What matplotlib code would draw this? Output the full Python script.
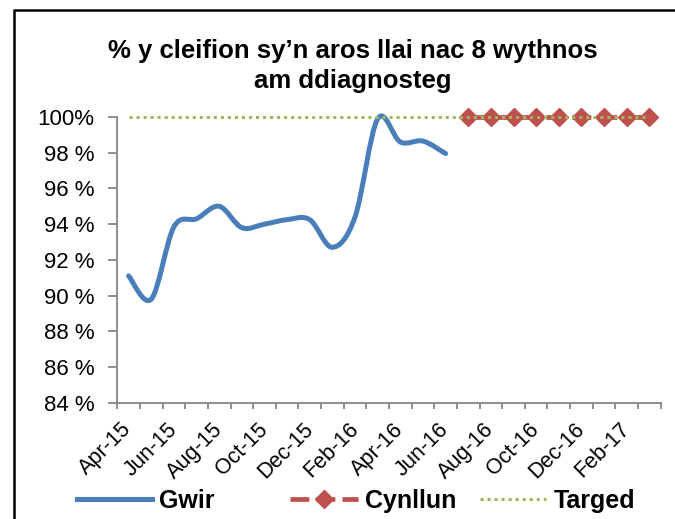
import matplotlib
matplotlib.use("Agg")
import matplotlib.pyplot as plt
from matplotlib.lines import Line2D
from matplotlib.path import Path
from matplotlib.patches import PathPatch
import numpy as np

plt.rcParams["font.family"] = ["Liberation Sans", "DejaVu Sans"]

MONTHS = [
    "Apr-15", "May-15", "Jun-15", "Jul-15", "Aug-15", "Sep-15",
    "Oct-15", "Nov-15", "Dec-15", "Jan-16", "Feb-16", "Mar-16",
    "Apr-16", "May-16", "Jun-16", "Jul-16", "Aug-16", "Sep-16",
    "Oct-16", "Nov-16", "Dec-16", "Jan-17", "Feb-17", "Mar-17",
]
# actual (Apr-15 .. Jun-16)
GWIR = [91.1, 89.8, 93.85, 94.3, 95.0, 93.8, 94.0, 94.25, 94.25, 92.7, 94.4, 99.9, 98.6, 98.65, 97.95]
# plan (Jul-16 .. Mar-17)
CYNLLUN = [100.0, 100.0, 100.0, 100.0, 100.0, 100.0, 100.0, 100.0, 100.0]
# target (all months)
TARGED = [100.0, 100.0, 100.0, 100.0, 100.0, 100.0, 100.0, 100.0, 100.0, 100.0, 100.0, 100.0,
          100.0, 100.0, 100.0, 100.0, 100.0, 100.0, 100.0, 100.0, 100.0, 100.0, 100.0, 100.0]
Y_TICKS = [84, 86, 88, 90, 92, 94, 96, 98, 100]
Y_LABELS = ["84 %", "86 %", "88 %", "90 %", "92 %", "94 %", "96 %", "98 %", "100%"]

BLUE = "#4A7EBB"
RED = "#C0504D"
GREEN = "#9BBB59"
AXIS = "#868686"


def smooth_path(xs, ys):
    # Excel style smoothed line: cubic bezier segments through every point
    pts = np.column_stack([xs, ys]).astype(float)
    n = len(pts)
    verts = [pts[0]]
    codes = [Path.MOVETO]
    for i in range(n - 1):
        p0 = pts[max(i - 1, 0)]
        p1 = pts[i]
        p2 = pts[i + 1]
        p3 = pts[min(i + 2, n - 1)]
        verts += [p1 + (p2 - p0) / 6.0, p2 - (p3 - p1) / 6.0, p2]
        codes += [Path.CURVE4] * 3
    return Path(verts, codes)


fig = plt.figure(figsize=(6.75, 5.19), dpi=100)
ax = fig.add_axes([0.1738, 0.2241, 0.8050, 0.5505])

x_all = np.arange(len(MONTHS))
x_gwir = x_all[:len(GWIR)]
x_plan = x_all[len(GWIR):len(GWIR) + len(CYNLLUN)]

ax.add_patch(PathPatch(smooth_path(x_gwir, GWIR), facecolor="none", edgecolor=BLUE,
                       linewidth=3.6, capstyle="round", joinstyle="round", zorder=3,
                       clip_on=False))
ax.plot(x_plan, CYNLLUN, color=RED, linewidth=3.4, linestyle=(0, (4, 1.5)),
        marker="D", markersize=9.5, markeredgecolor=RED, zorder=3, clip_on=False)
ax.plot(x_all, TARGED, color=GREEN, linewidth=2.2, linestyle=(0, (1, 1.3)), zorder=4,
        clip_on=False)

ax.set_xlim(-0.5, len(MONTHS) - 0.5)
ax.set_ylim(84, 100)

for side in ["top", "right"]:
    ax.spines[side].set_visible(False)
for side in ["left", "bottom"]:
    ax.spines[side].set_color(AXIS)
    ax.spines[side].set_linewidth(1.3)

ax.set_yticks(Y_TICKS)
ax.set_yticklabels(Y_LABELS)
ax.tick_params(axis="y", direction="out", length=6.5, width=1.3, color=AXIS,
               pad=10, labelsize=16)

# category boundaries carry the tick marks, every other month carries a label
ax.set_xticks(np.arange(-0.5, len(MONTHS)))
ax.set_xticklabels([])
ax.set_xticks(x_all[::2], minor=True)
ax.set_xticklabels(MONTHS[::2], minor=True, rotation=45, ha="right",
                   va="center", rotation_mode="anchor")
ax.tick_params(axis="x", which="major", direction="out", length=4.5, width=1.3, color=AXIS)
ax.tick_params(axis="x", which="minor", length=0, pad=17, labelsize=15.5)

fig.text(0.523, 1 - 66 / 519, "% y cleifion sy’n aros llai nac 8 wythnos\nam ddiagnosteg",
         ha="center", va="center", fontsize=18.5, fontweight="bold", linespacing=1.3)

# frame round the chart (cut off at right and bottom)
fig.add_artist(Line2D([14 / 675, 14 / 675, 1.0], [0.0, 1 - 10 / 519, 1 - 10 / 519],
                      transform=fig.transFigure, color="black", linewidth=1.8))

legend_items = [
    (Line2D([], [], color=BLUE, linewidth=3.6), "Gwir", 77, 3.0),
    (Line2D([], [], color=RED, linewidth=3.4, linestyle=(0, (4, 1.5)), marker="D",
            markersize=9.5), "Cynllun", 290, 2.7),
    (Line2D([], [], color=GREEN, linewidth=2.2, linestyle=(0, (1, 1.3))), "Targed", 480, 2.65),
]
for handle, label, x0, hlen in legend_items:
    fig.legend(handles=[handle], labels=[label], loc="center left",
               bbox_to_anchor=(x0 / 675, 1 - 501 / 519), frameon=False,
               borderpad=0, borderaxespad=0, handlelength=hlen, handletextpad=0.3,
               numpoints=1, prop={"size": 18, "weight": "bold"})

fig.savefig("out.png", dpi=100)
